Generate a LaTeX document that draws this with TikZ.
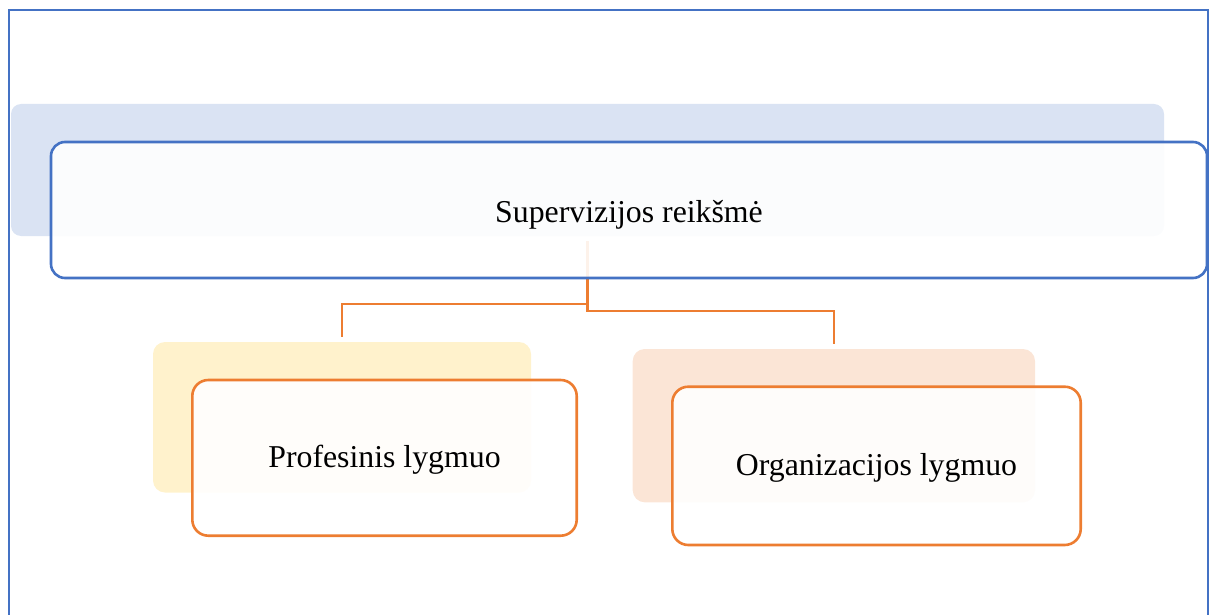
\documentclass[tikz,border=0pt]{standalone}
\usepackage{fontspec}
\setmainfont{Liberation Serif}
\definecolor{accblue}{HTML}{4472C4}
\definecolor{accorange}{HTML}{ED7D31}
\definecolor{tintblue}{HTML}{DAE3F3}
\definecolor{tintyellow}{HTML}{FFF2CC}
\definecolor{tintpeach}{HTML}{FBE5D6}
\tikzset{
  backcard/.style={rectangle, draw=none, inner sep=0pt, outer sep=0pt},
  frontcard/.style={rectangle, fill=white, fill opacity=0.9, text opacity=1,
    line width=1.3pt, inner sep=0pt, outer sep=0pt, text=black,
    font=\fontsize{15.9pt}{19pt}\selectfont, text depth=0pt},
  conn/.style={draw=accorange, line width=1.1pt, shorten <=2.5pt, shorten >=2.5pt},
  frameline/.style={draw=accblue, line width=1pt}
}
\begin{document}
\begin{tikzpicture}[x=0.5pt,y=-0.5pt]
\useasboundingbox (0,0) rectangle (1214,615);
\clip (0,0) rectangle (1214,615);

% page frame, open at the bottom
\draw[frameline] (8.5,630) -- (8.5,10.5) -- (1207.5,10.5) -- (1207.5,630);

% tinted back cards
\node[backcard, fill=tintblue, rounded corners=5pt,
  minimum width=576.5pt, minimum height=66pt] (mainback) at (587.5,170) {};
\node[backcard, fill=tintyellow, rounded corners=6pt,
  minimum width=189pt, minimum height=75.25pt] (leftback) at (342,417.25) {};
\node[backcard, fill=tintpeach, rounded corners=6pt,
  minimum width=201.15pt, minimum height=76.65pt] (rightback) at (833.85,425.65) {};

% hierarchy connectors
\draw[conn] (mainback.south) -- ++(0,68) -| (leftback.north);
\draw[conn] (mainback.south) -- ++(0,75) -| (rightback.north);

% outlined front cards with the labels
\node[frontcard, draw=accblue, rounded corners=7pt, text height=12pt,
  minimum width=578pt, minimum height=68pt] (main) at (629,210) {Supervizijos reikšmė};
\node[frontcard, draw=accorange, rounded corners=8pt, text height=9.15pt,
  minimum width=192.2pt, minimum height=77.85pt] (left) at (384.5,457.85) {Profesinis lygmuo};
\node[frontcard, draw=accorange, rounded corners=8pt, text height=9.15pt,
  minimum width=204.2pt, minimum height=79.15pt] (right) at (876.5,465.85) {Organizacijos lygmuo};
\end{tikzpicture}
\end{document}
